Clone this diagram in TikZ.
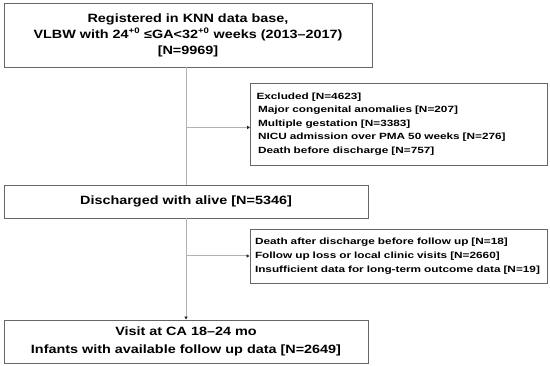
\documentclass[tikz,border=0pt]{standalone}
\usepackage{fontspec}
\setmainfont{Liberation Sans}
\newfontfamily\mainboxfont[Ligatures=TeX, FakeStretch=1.2]{Liberation Sans}
\newfontfamily\sideboxfont[Ligatures=TeX, FakeStretch=1.31]{Liberation Sans}
\usepackage{xcolor}
\usetikzlibrary{arrows.meta, positioning, calc}

\tikzset{
    mainbox/.style={draw=black!60, line width=0.9pt, inner sep=0pt, align=center,
        minimum width=364pt, font=\mainboxfont\bfseries\fontsize{12}{16}\selectfont},
    sidebox/.style={draw=black!60, line width=0.9pt, inner xsep=5pt, inner ysep=0pt, align=left,
        text width=287pt, font=\sideboxfont\bfseries\fontsize{9}{13.4}\selectfont},
    link/.style={draw=black!30, line width=1pt},
    linkarrow/.style={link, -{Triangle[length=3pt, width=3.2pt, color=black!85]}}
}

\begin{document}
\begin{tikzpicture}[x=1pt, y=1pt]
    \useasboundingbox (0,0) rectangle (550,-366);

    \node[mainbox, minimum width=368pt, minimum height=64pt] (reg) at (188,-35)
        {Registered in KNN data base,\\
         VLBW with 24\textsuperscript{+0} ≤GA<32\textsuperscript{+0} weeks (2013--2017)\\
         {[N=9969]}};
    \node[sidebox, minimum height=82pt] (excl) at (399,-124)
        {\hspace*{1pt}Excluded [N=4623]\\
         \hspace*{2.5pt}Major congenital anomalies [N=207]\\
         \hspace*{2.5pt}Multiple gestation [N=3383]\\
         \hspace*{2.5pt}NICU admission over PMA 50 weeks [N=276]\\
         \hspace*{2.5pt}Death before discharge [N=757]};
    \node[mainbox, minimum height=33pt] (disch) at (186,-201.5)
        {Discharged with alive [N=5346]};
    \node[sidebox, minimum height=54pt, font=\sideboxfont\bfseries\fontsize{9}{14}\selectfont] (loss) at (398.5,-256)
        {Death after discharge before follow up [N=18]\\
         Follow up loss or local clinic visits [N=2660]\\
         Insufficient data for long-term outcome data [N=19]};
    \node[mainbox, minimum height=43pt, font=\mainboxfont\bfseries\fontsize{12}{18.5}\selectfont] (visit) at (186,-341.5)
        {Visit at CA 18--24 mo\\
         Infants with available follow up data [N=2649]};

    \coordinate (b1) at ($(disch.north |- reg.south)+(0,-60)$);
    \coordinate (b2) at (disch.south |- loss.west);

    \draw[link] (disch.north |- reg.south) -- (disch.north);
    \draw[linkarrow] (b1) -- (excl.west |- b1);
    \draw[linkarrow] (disch.south) -- (visit.north);
    \draw[linkarrow] (b2) -- (loss.west);
\end{tikzpicture}
\end{document}
